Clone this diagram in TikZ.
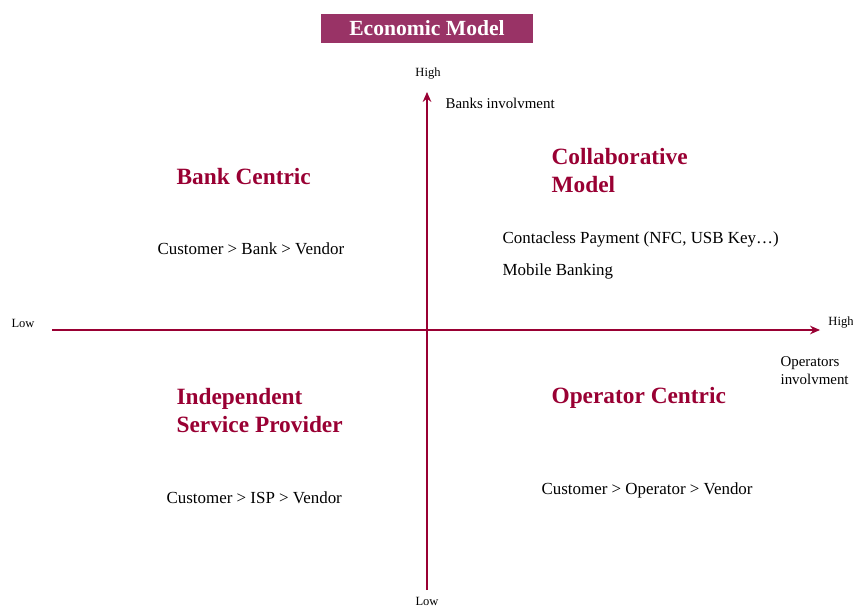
\documentclass[tikz,border=0pt]{standalone}
\usepackage{fontspec}
\setmainfont{Liberation Serif}
\usetikzlibrary{arrows.meta}
\definecolor{maroon}{HTML}{990033}
\definecolor{titlefill}{HTML}{993366}
\tikzset{
  heading/.style={anchor=west,align=left,text=maroon,font=\fontsize{17.5}{21}\selectfont\bfseries},
  body/.style={anchor=west,font=\fontsize{12.7}{15}\selectfont},
  tick/.style={font=\fontsize{9.4}{11}\selectfont},
  axislabel/.style={anchor=west,align=left,font=\fontsize{11.2}{13.5}\selectfont},
}
\begin{document}
\begin{tikzpicture}[x=0.75pt,y=-0.75pt,->,>={Stealth[length=7.5pt,width=6.5pt,inset=2.5pt]},line width=0.9pt]
\useasboundingbox (0,0) rectangle (853,606);
\begin{scope}[inner sep=0pt]

\node[fill=titlefill,text=white,minimum width=212*0.75pt,minimum height=29*0.75pt,font=\fontsize{16.2}{19}\selectfont\bfseries] (title) at (427,28.5) {Economic Model};

% axes
\coordinate (ybot) at (427,590);
\coordinate (ytop) at (427,92);
\coordinate (xleft) at (52,330);
\coordinate (xright) at (820,330);
\draw[maroon] (ybot) -- (ytop);
\draw[maroon] (xleft) -- (xright);

\node[tick] (yhigh) at (428,74) {High};
\node[tick] (ylow) at (427,601) {Low};
\node[tick] (xlow) at (23,323) {Low};
\node[tick] (xhigh) at (841,323) {High};
\node[axislabel] (banks) at (445,103) {Banks involvment};
\node[axislabel] (operators) at (780,371) {Operators\\involvment};

% quadrants
\node[heading] (bank) at (176,177) {Bank Centric};
\node[body] (bankchain) at (157,249) {Customer > Bank > Vendor};

\node[heading] (collab) at (551,171) {Collaborative\\Model};
\node[body] (nfc) at (502,239) {Contacless Payment (NFC, USB Key\ldots)};
\node[body] (mobile) at (502,271) {Mobile Banking};

\node[heading] (isp) at (176,411) {Independent\\Service Provider};
\node[body] (ispchain) at (166,498) {Customer > ISP > Vendor};

\node[heading] (operator) at (551,398) {Operator Centric};
\node[body] (opchain) at (541,490) {Customer > Operator > Vendor};

\end{scope}
\end{tikzpicture}
\end{document}
